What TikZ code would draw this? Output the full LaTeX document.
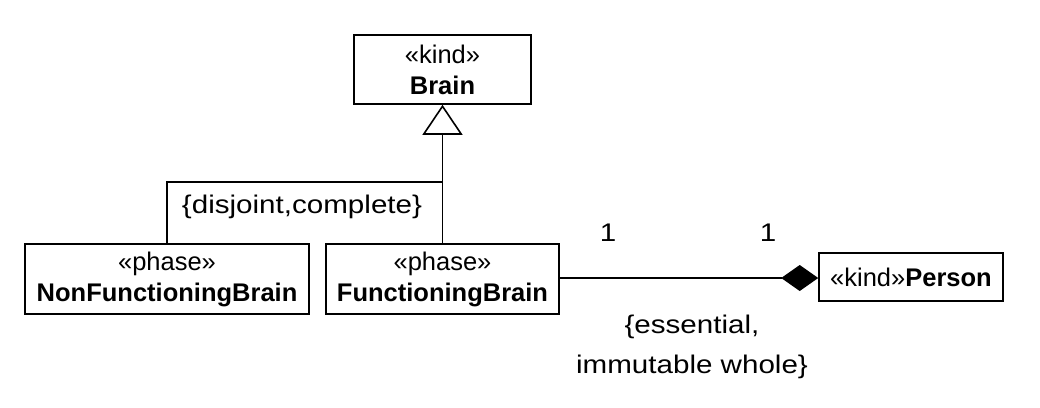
\documentclass[tikz,border=0pt]{standalone}
\usepackage{fontspec}
\setmainfont{Liberation Sans}
\newfontfamily\labelfont[FakeStretch=1.16]{Liberation Sans}
\usetikzlibrary{arrows.meta}
\begin{document}
\begin{tikzpicture}[x=1pt,y=-1pt,
  umlbox/.style={draw,line width=1.6pt,inner sep=0pt,align=center,
    font=\fontsize{25.5}{31}\selectfont},
  lbl/.style={inner sep=0pt,align=center,font=\labelfont\fontsize{25.5}{40}\selectfont},
  conn/.style={line width=1.3pt}]
\useasboundingbox (0,0) rectangle (1040,407);
\fill[white] (0,0) rectangle (1040,407);

% classes
\node[umlbox,minimum width=177pt,minimum height=69pt] (brain) at (442.5,69.5)
  {«kind»\\\textbf{Brain}};
\node[umlbox,minimum width=284pt,minimum height=70pt] (nfb) at (167,279)
  {«phase»\\\textbf{NonFunctioningBrain}};
\node[umlbox,minimum width=233pt,minimum height=70pt] (fb) at (442.5,279)
  {«phase»\\\textbf{FunctioningBrain}};
\node[umlbox,minimum width=184pt,minimum height=48pt] (person) at (911,277)
  {«kind»\textbf{Person}};

% generalization set
\coordinate (join) at (442.5,182);
\draw[conn,-{Triangle[open,length=30pt,width=40pt,line width=1.6pt]}]
  (fb.north) -- (brain.south);
\draw[conn] (nfb.north) |- (join);
\node[lbl] (gs) at (302,207) {\{disjoint,complete\}};

% composition
\draw[conn,-{Diamond[length=37pt,width=26pt]}] (fb.east |- 0,278) -- (person.west |- 0,278);
\node[lbl] (m1) at (608,233) {1};
\node[lbl] (m2) at (768,233) {1};
\node[lbl] (cons) at (692,347) {\{essential,\\immutable whole\}};
\end{tikzpicture}
\end{document}
